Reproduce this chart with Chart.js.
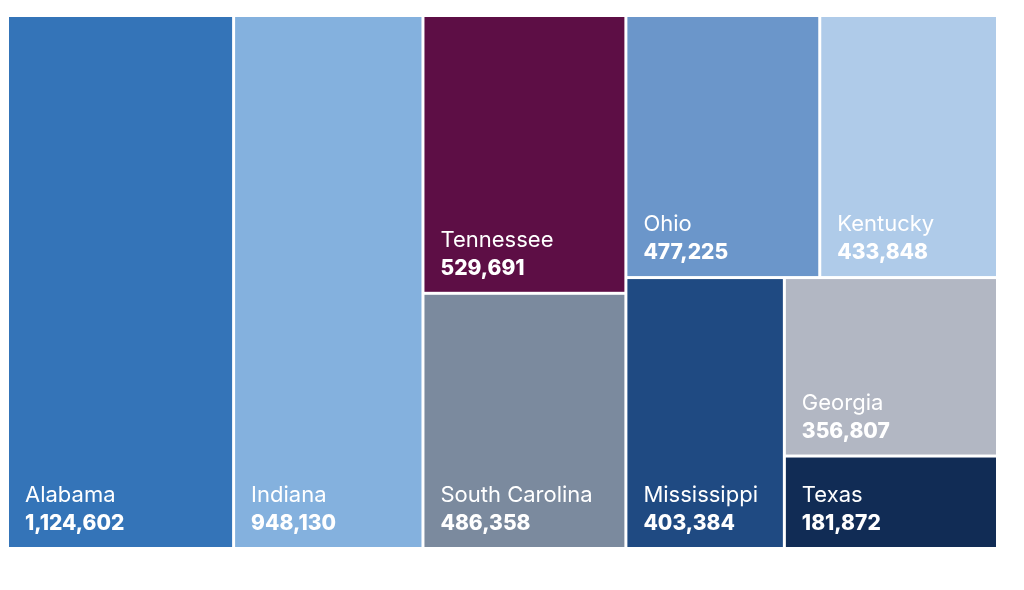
<!DOCTYPE html>
<html>
<head>
<meta charset="utf-8">
<script src="https://cdn.jsdelivr.net/npm/chart.js@4.4.1/dist/chart.umd.min.js"></script>
<style>
    html, body { margin: 0; padding: 0; background: #ffffff; }
    #wrap { width: 1024px; height: 590px; }
</style>
</head>
<body>
<div id="wrap"><canvas id="myChart" width="1024" height="590"></canvas></div>
<script>
const states = ['Alabama', 'Indiana', 'Tennessee', 'South Carolina', 'Ohio', 'Kentucky', 'Mississippi', 'Georgia', 'Texas'];
const totals = [1124602, 948130, 529691, 486358, 477225, 433848, 403384, 356807, 181872];
const colors = ['#3474b8', '#84b1de', '#5d0e45', '#7b8a9e', '#6b96ca', '#afcbe9', '#1f4a82', '#b2b7c3', '#112c55'];

// how the cells are nested: 'h' splits side by side, 'v' stacks top to bottom
const groups = {
    dir: 'h', items: [0, 1,
        { dir: 'v', items: [2, 3] },
        { dir: 'v', items: [
            { dir: 'h', items: [4, 5] },
            { dir: 'h', items: [6, { dir: 'v', items: [7, 8] }] }
        ] }
    ]
};

function sumOf(node) {
    if (typeof node === 'number') return totals[node];
    return node.items.reduce((s, n) => s + sumOf(n), 0);
}

// slice and dice layout in value space (0..1 on both axes)
function layout(node, x0, y0, x1, y1, out) {
    if (typeof node === 'number') {
        out.push({ i: node, x0: x0, y0: y0, x1: x1, y1: y1 });
        return;
    }
    let total = sumOf(node);
    let pos = node.dir === 'h' ? x0 : y0;
    node.items.forEach(n => {
        let share = sumOf(n) / total;
        if (node.dir === 'h') {
            let next = pos + (x1 - x0) * share;
            layout(n, pos, y0, next, y1, out);
            pos = next;
        } else {
            let next = pos + (y1 - y0) * share;
            layout(n, x0, pos, x1, next, out);
            pos = next;
        }
    });
}

const cells = [];
layout(groups, 0, 0, 1, 1, cells);

const treemapPlugin = {
    id: 'treemapCells',
    afterDatasetsDraw(chart) {
        const ctx = chart.ctx;
        const xs = chart.scales.x;
        const ys = chart.scales.y;
        const gap = 1.5;
        ctx.save();
        cells.forEach(c => {
            let left = xs.getPixelForValue(c.x0);
            let right = xs.getPixelForValue(c.x1);
            let top = ys.getPixelForValue(c.y0);
            let bottom = ys.getPixelForValue(c.y1);
            // inner gaps only, outer edges stay on the chart area
            let l = c.x0 > 0 ? left + gap : left;
            let r = c.x1 < 1 ? right - gap : right;
            let t = c.y0 > 0 ? top + gap : top;
            let b = c.y1 < 1 ? bottom - gap : bottom;
            ctx.fillStyle = colors[c.i];
            ctx.fillRect(l, t, r - l, b - t);

            ctx.fillStyle = '#ffffff';
            ctx.textAlign = 'left';
            ctx.textBaseline = 'alphabetic';
            ctx.font = '400 22px Inter, "Liberation Sans", sans-serif';
            ctx.fillText(states[c.i], l + 16, b - 45);
            ctx.font = '800 21px Inter, "Liberation Sans", sans-serif';
            ctx.fillText(totals[c.i].toLocaleString('en-US'), l + 16, b - 17);
        });
        ctx.restore();
    }
};

const ctx = document.getElementById('myChart').getContext('2d');
const chart = new Chart(ctx, {
    type: 'scatter',
    data: {
        datasets: [{
            label: 'Total',
            data: cells.map(c => ({ x: (c.x0 + c.x1) / 2, y: (c.y0 + c.y1) / 2 })),
            pointRadius: 0,
            pointHoverRadius: 0
        }]
    },
    options: {
        responsive: false,
        animation: false,
        layout: {
            padding: { left: 9, top: 17, right: 28, bottom: 43 }
        },
        scales: {
            x: { type: 'linear', min: 0, max: 1, display: false },
            y: { type: 'linear', min: 0, max: 1, reverse: true, display: false }
        },
        plugins: {
            legend: { display: false },
            tooltip: { enabled: false }
        }
    },
    plugins: [treemapPlugin]
});
</script>
</body>
</html>
